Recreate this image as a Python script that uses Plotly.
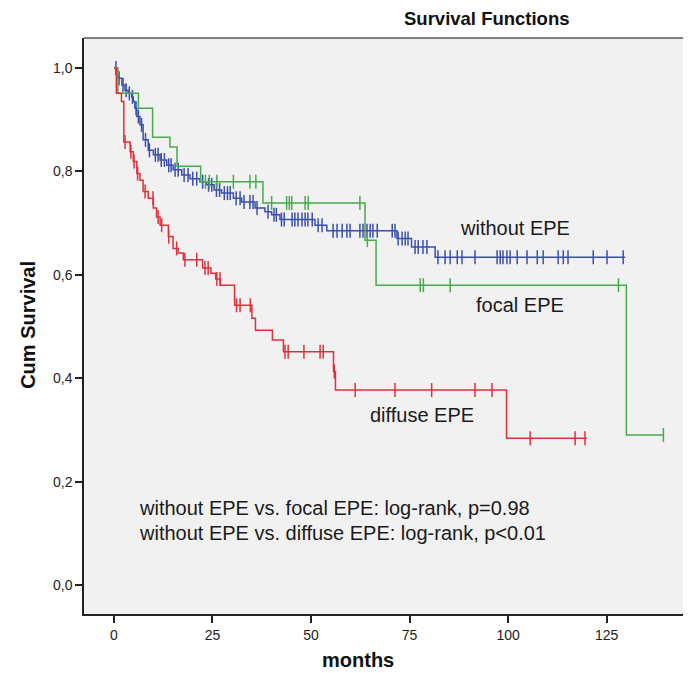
import numpy as np
import plotly.graph_objects as go

# ---------------- data ----------------
# without EPE (blue)
blue_t = [0, 0.7, 1.1, 2.0, 2.8, 3.6, 4.5, 4.9, 5.3, 5.8, 6.6, 7.4, 8.7, 10.0, 11.7, 13.4, 15.0,
          17.2, 19.3, 21.8, 23.5, 25.4, 27.3, 30.3, 32.4, 35.8, 38.3, 40.0, 42.1, 51.0, 54.0,
          71.8, 75.5, 81.5]
blue_s = [1.0, 0.986, 0.980, 0.967, 0.957, 0.951, 0.944, 0.935, 0.922, 0.906, 0.890, 0.861, 0.841,
          0.832, 0.822, 0.812, 0.803, 0.793, 0.786, 0.780, 0.774, 0.764, 0.758, 0.748, 0.741, 0.729,
          0.722, 0.716, 0.707, 0.696, 0.685, 0.670, 0.654, 0.634]
blue_end = 129.7
blue_cens = [0.5, 1.3, 2.3, 3.1, 3.9, 4.7, 5.6, 6.2, 7.0, 8.0, 9.0, 10.5, 11.2, 12.0, 12.8, 13.9,
             14.5, 15.5, 16.3, 17.8, 18.8, 20.0, 21.0, 22.5, 24.0, 24.8, 26.0, 26.8, 28.0, 28.8,
             29.5, 31.0, 32.0, 33.0, 34.5, 35.3, 36.3, 39.1, 40.6, 41.2, 42.5, 43.2, 45.2, 45.9,
             46.7, 47.7, 48.5, 49.2, 50.3, 51.8, 52.8, 55.6, 56.6, 57.9, 59.1, 59.9, 62.4, 63.2,
             64.2, 65.0, 65.7, 66.8, 70.6, 71.3, 72.1, 73.1, 73.9, 74.6, 76.4, 77.2, 78.4, 79.4,
             82.2, 84.0, 85.3, 87.1, 88.3, 91.6, 97.2, 98.0, 98.7, 99.7, 100.5, 102.3, 104.8,
             107.4, 108.9, 112.7, 114.0, 115.2, 121.6, 125.1, 129.2]

# focal EPE (green)
green_t = [0, 1.0, 6.2, 9.8, 14.2, 16.0, 22.0, 37.8, 63.7, 66.5, 130.0]
green_s = [1.0, 0.951, 0.922, 0.866, 0.847, 0.810, 0.780, 0.739, 0.667, 0.580, 0.290]
green_end = 139.4
green_cens = [23.2, 24.2, 26.1, 30.3, 34.5, 36.0, 40.0, 43.8, 44.5, 45.1, 48.5, 49.3, 62.4,
              64.3, 77.7, 78.5, 85.3, 128.0, 139.4]

# diffuse EPE (red)
red_t = [0, 0.6, 1.9, 2.5, 4.1, 4.9, 5.8, 6.6, 7.4, 8.7, 10.0, 10.8, 11.7, 13.8, 15.0, 16.3,
         17.6, 22.5, 24.6, 25.8, 27.0, 30.6, 35.0, 35.9, 40.2, 43.0, 55.7, 56.2, 99.6]
red_s = [1.0, 0.951, 0.935, 0.857, 0.838, 0.819, 0.796, 0.783, 0.761, 0.748, 0.729, 0.712,
         0.696, 0.674, 0.651, 0.642, 0.629, 0.613, 0.603, 0.592, 0.580, 0.541, 0.516, 0.493,
         0.474, 0.451, 0.413, 0.377, 0.284]
red_end = 120.0
red_cens = [2.8, 4.3, 5.1, 6.0, 7.9, 9.9, 11.2, 12.1, 13.9, 15.9, 18.0, 21.0, 23.1, 23.9, 26.1,
            26.9, 31.1, 32.0, 34.6, 43.4, 44.2, 48.2, 52.3, 53.1, 55.9, 61.2, 71.3, 80.6, 91.6,
            95.9, 105.6, 117.0, 119.5]

x_ticks = [0, 25, 50, 75, 100, 125]
y_ticks = [0.0, 0.2, 0.4, 0.6, 0.8, 1.0]
y_ticktext = ["0,0", "0,2", "0,4", "0,6", "0,8", "1,0"]

series = [
    ("without EPE", blue_t, blue_s, blue_end, blue_cens, "#3b4fae"),
    ("focal EPE", green_t, green_s, green_end, green_cens, "#46ab4a"),
    ("diffuse EPE", red_t, red_s, red_end, red_cens, "#e0303c"),
]

FONT = "Arial, 'Liberation Sans', sans-serif"

fig = go.Figure()
for name, t, s, tend, cens, col in series:
    t = np.array(t, dtype=float)
    s = np.array(s, dtype=float)
    fig.add_trace(go.Scatter(
        x=np.append(t, tend), y=np.append(s, s[-1]),
        mode="lines", line=dict(color=col, width=1.5, shape="hv"),
        name=name, showlegend=False, hoverinfo="skip"))
    c = np.array(cens, dtype=float)
    idx = np.searchsorted(t, c, side="right") - 1
    fig.add_trace(go.Scatter(
        x=c, y=s[idx], mode="markers",
        marker=dict(symbol="line-ns", size=10, line=dict(color=col, width=1.5)),
        showlegend=False, hoverinfo="skip"))

txt = dict(family=FONT, size=20, color="#1a1a1a")
fig.add_annotation(x=101.8, y=0.690, text="without EPE", showarrow=False, font=txt)
fig.add_annotation(x=103.0, y=0.542, text="focal EPE", showarrow=False, font=txt)
fig.add_annotation(x=78.2, y=0.329, text="diffuse EPE", showarrow=False, font=txt)
fig.add_annotation(x=5.8, y=0.149, xanchor="left",
                   text="without EPE vs. focal EPE: log-rank, p=0.98",
                   showarrow=False, font=dict(family=FONT, size=20, color="#1a1a1a"))
fig.add_annotation(x=5.8, y=0.101, xanchor="left",
                   text="without EPE vs. diffuse EPE: log-rank, p<0.01",
                   showarrow=False, font=dict(family=FONT, size=20, color="#1a1a1a"))

# title and axis titles
fig.add_annotation(xref="paper", yref="paper", x=0.664, y=1.0, yshift=20,
                   xanchor="center", yanchor="middle",
                   text="<b>Survival Functions</b>", showarrow=False,
                   font=dict(family=FONT, size=18.5, color="#111"))
fig.add_annotation(xref="paper", yref="paper", x=-0.0923, y=0.502, textangle=-90,
                   xanchor="center", yanchor="middle",
                   text="<b>Cum Survival</b>", showarrow=False,
                   font=dict(family=FONT, size=20, color="#111"))
fig.add_annotation(xref="x", yref="paper", x=61.9, y=0, yshift=-46,
                   xanchor="center", yanchor="middle",
                   text="<b>months</b>", showarrow=False,
                   font=dict(family=FONT, size=20, color="#111"))

fig.update_layout(
    width=691, height=673,
    margin=dict(l=76, r=8, t=30, b=67),
    paper_bgcolor="white", plot_bgcolor="#f1f1f1",
    font=dict(family=FONT, size=14, color="#222"),
)
fig.update_xaxes(range=[-7.6, 146.4], tickvals=x_ticks, ticks="outside", ticklen=7,
                 tickwidth=1.5, tickcolor="#222", showgrid=False, zeroline=False,
                 showline=True, linecolor="#222", linewidth=1.5, mirror=False,
                 tickfont=dict(family=FONT, size=14, color="#222"))
fig.update_yaxes(range=[-0.056, 1.058], tickvals=y_ticks, ticktext=y_ticktext,
                 ticks="outside", ticklen=7, tickwidth=1.5, tickcolor="#222",
                 showgrid=False, zeroline=False, showline=True, linecolor="#222",
                 linewidth=1.5, tickfont=dict(family=FONT, size=14, color="#222"))
fig.add_shape(type="line", xref="paper", yref="paper", x0=0, x1=1, y0=1, y1=1,
              line=dict(color="#555", width=1.5))

fig.write_html("out.html")
